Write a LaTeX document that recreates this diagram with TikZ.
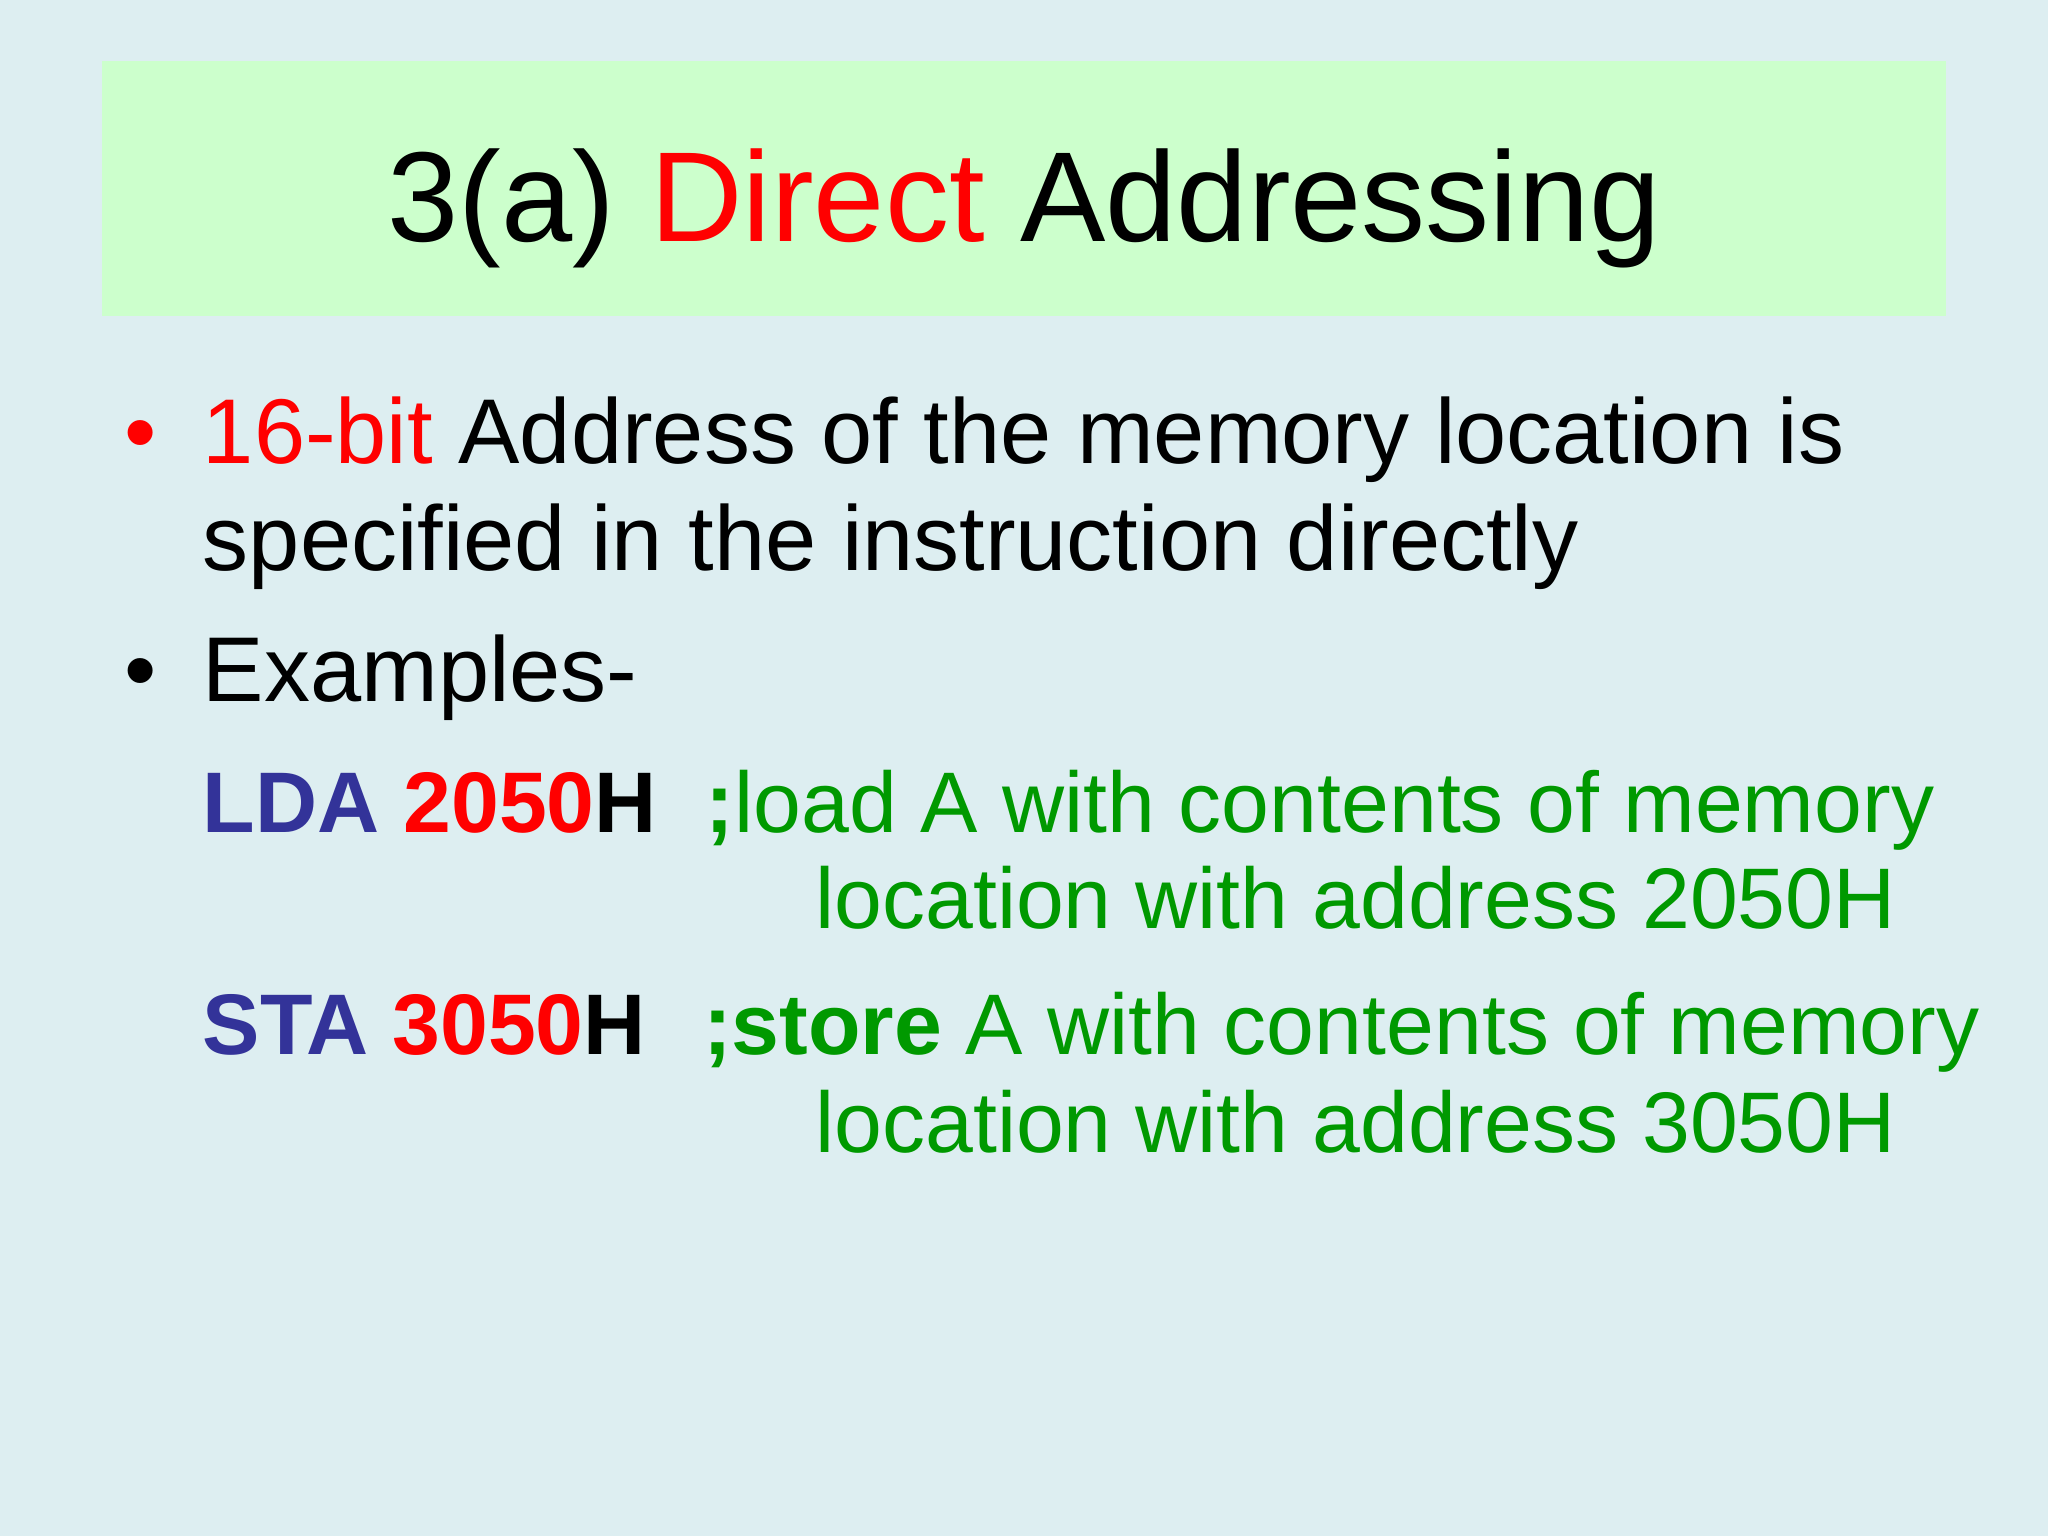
\documentclass[tikz,border=0pt]{standalone}
\usepackage{fontspec}
\setmainfont{Liberation Sans}
\definecolor{bg}{HTML}{DDEEF1}
\definecolor{tbox}{HTML}{CCFFCC}
\definecolor{rd}{HTML}{FF0000}
\definecolor{bl}{HTML}{333399}
\definecolor{gr}{HTML}{009900}
\tikzset{txt/.style={anchor=base west,inner sep=0pt},
 body/.style={txt,font=\fontsize{46}{50}\selectfont},
 code/.style={txt,font=\fontsize{43}{48}\selectfont}}
\begin{document}
\begin{tikzpicture}[x=0.653pt,y=-0.653pt]
\fill[bg] (0,0) rectangle (1568,1176);
\useasboundingbox (0,0) rectangle (1568,1176);
\fill[tbox] (78,47) rectangle (1490,242);
\node[txt,anchor=base,font=\fontsize{64}{70}\selectfont] (title) at (784,185) {3(a) \textcolor{rd}{Direct} Addressing};
\node[body,text=rd] (b1) at (95,355) {•};
\node[body] (l1) at (155,355) {\textcolor{rd}{16-bit} Address of the memory location is};
\node[body] (l2) at (155,437) {specified in the instruction directly};
\node[body] (b2) at (95,537) {•};
\node[body] (l3) at (155,537) {Examples-};
\node[code,font=\fontsize{43}{48}\selectfont\bfseries] (lda) at (155,637) {\textcolor{bl}{LDA} \textcolor{rd}{2050}H};
\node[code,text=gr] (c1) at (540,637) {\textbf{;}load A with contents of memory};
\node[code,text=gr] (c2) at (624,711) {location with address 2050H};
\node[code,font=\fontsize{43}{48}\selectfont\bfseries] (sta) at (155,807) {\textcolor{bl}{STA} \textcolor{rd}{3050}H};
\node[code,text=gr] (c3) at (538,807) {\textbf{;store} A with contents of memory};
\node[code,text=gr] (c4) at (624,882) {location with address 3050H};
\end{tikzpicture}
\end{document}
